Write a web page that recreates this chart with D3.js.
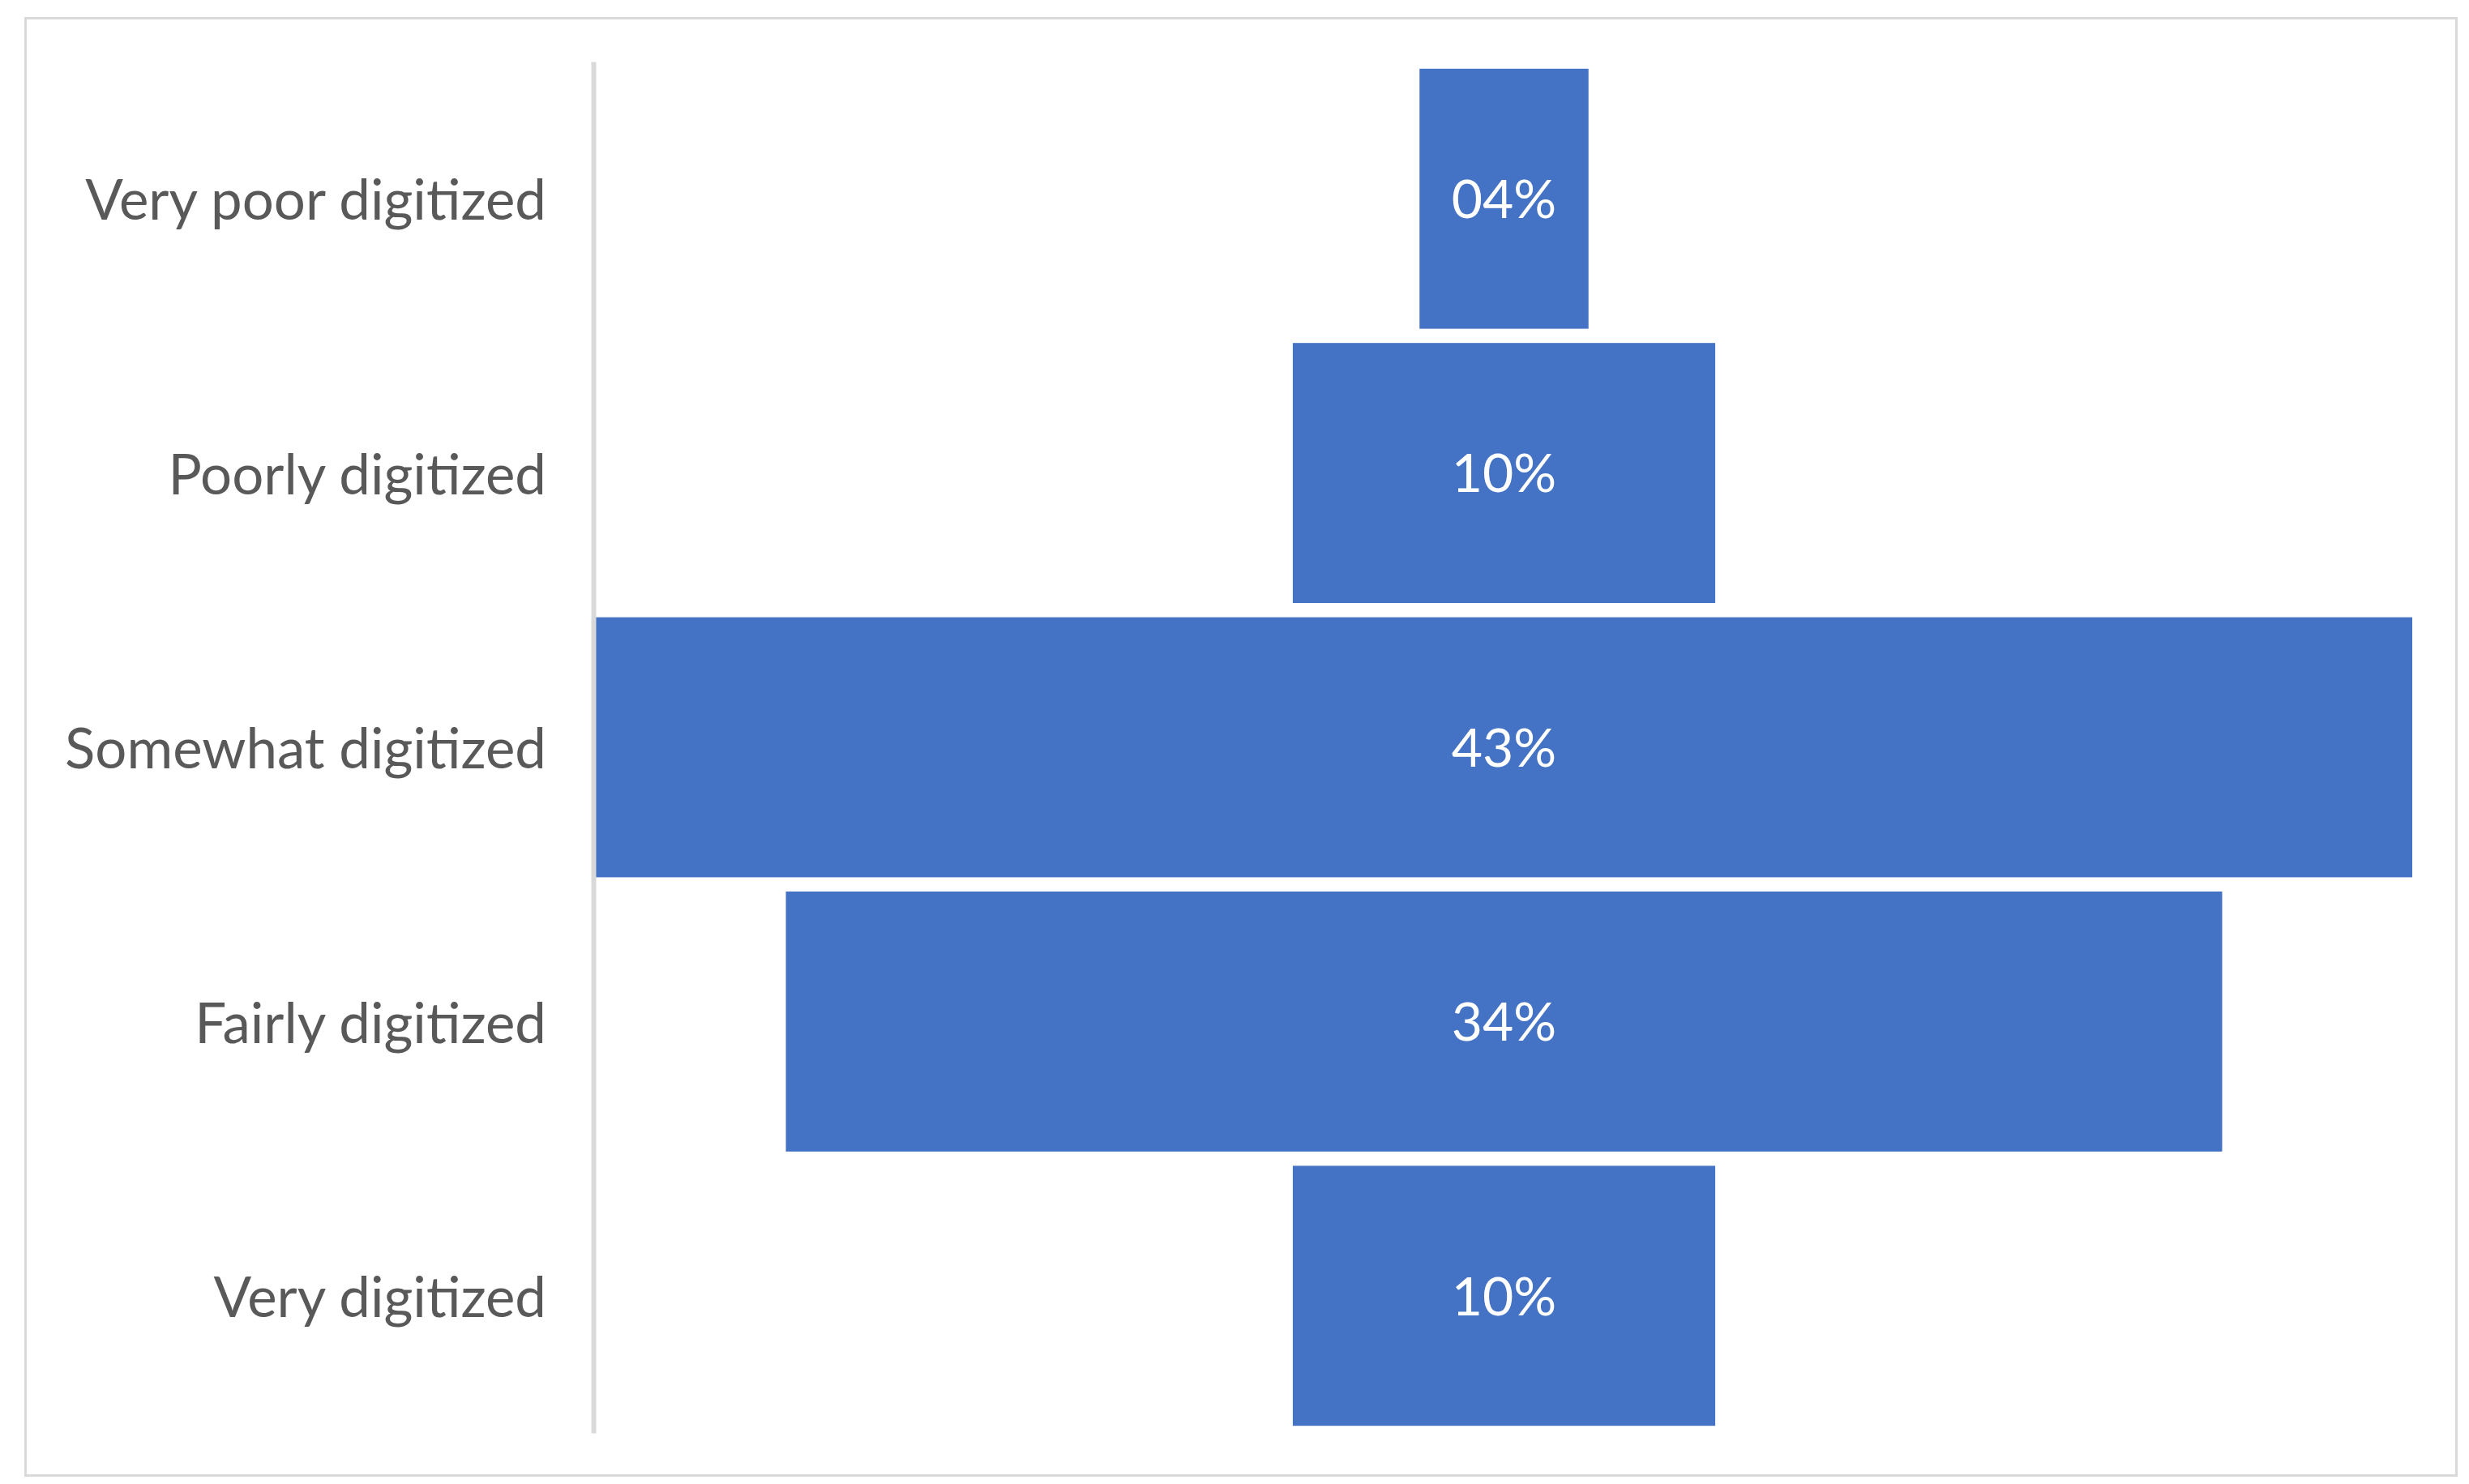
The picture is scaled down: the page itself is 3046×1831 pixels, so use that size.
<!DOCTYPE html>
<meta charset="utf-8">
<style>
body { margin: 0; background: #fff; }
.cat { fill: #595959; font-family: Lato, "Open Sans", sans-serif; font-size: 69px; }
.val { fill: #fff; font-family: Lato, "Open Sans", sans-serif; font-size: 66px; }
.bar { fill: #4472c4; }
</style>
<body>
<svg width="3046" height="1831"></svg>
<script src="https://d3js.org/d3.v7.min.js"></script>
<script>

var categories = ["Very poor digitized", "Poorly digitized", "Somewhat digitized", "Fairly digitized", "Very digitized"];
var values = [4, 10, 43, 34, 10];
var valueLabels = ["04%", "10%", "43%", "34%", "10%"];

var svg = d3.select("svg");

// chart frame
svg.append("rect")
    .attr("x", 31.5).attr("y", 22.5)
    .attr("width", 2999).attr("height", 1798)
    .attr("fill", "#fff")
    .attr("stroke", "#d9d9d9")
    .attr("stroke-width", 3);

var data = categories.map(function(c, i) {
  return {cat: c, v: values[i], label: valueLabels[i]};
});

var maxV = d3.max(values);

var y = d3.scaleBand()
    .domain(categories)
    .range([76, 1768])
    .paddingInner(0.052)
    .paddingOuter(0.026);

// funnel: bars centred on zero
var x = d3.scaleLinear()
    .domain([-maxV / 2, maxV / 2])
    .range([735, 2976]);

svg.selectAll(".bar")
  .data(data)
  .enter().append("rect")
    .attr("class", "bar")
    .attr("x", function(d) { return x(-d.v / 2); })
    .attr("y", function(d) { return y(d.cat); })
    .attr("width", function(d) { return x(d.v / 2) - x(-d.v / 2); })
    .attr("height", y.bandwidth());

svg.selectAll(".val")
  .data(data)
  .enter().append("text")
    .attr("class", "val")
    .attr("x", x(0))
    .attr("y", function(d) { return y(d.cat) + y.bandwidth() / 2; })
    .attr("dy", "0.36em")
    .attr("text-anchor", "middle")
    .text(function(d) { return d.label; });

// category axis
var axis = svg.append("g")
    .attr("transform", "translate(732,0)")
    .call(d3.axisLeft(y).tickSize(0).tickPadding(58));

axis.select(".domain")
    .attr("stroke", "#d9d9d9")
    .attr("stroke-width", 6);

axis.selectAll(".tick text")
    .attr("class", "cat")
    .attr("fill", null)
    .attr("font-size", null)
    .attr("font-family", null)
    .attr("dy", "0.38em");

</script>
</body>
